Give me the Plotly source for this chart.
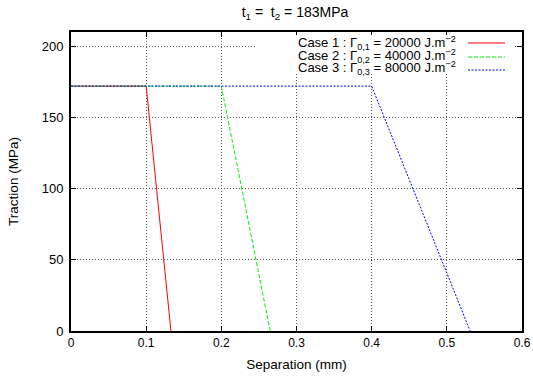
import plotly.graph_objects as go

# ---- data ----
sep_case1 = [0.0, 0.1, 0.133]
trac_case1 = [172, 172, 0]
sep_case2 = [0.0, 0.2, 0.265]
trac_case2 = [172, 172, 0]
sep_case3 = [0.0, 0.4, 0.531]
trac_case3 = [172, 172, 0]

case_labels = [
    "Case 1 : Γ<sub>0,1</sub> = 20000 J.m<sup>−2</sup>",
    "Case 2 : Γ<sub>0,2</sub> = 40000 J.m<sup>−2</sup>",
    "Case 3 : Γ<sub>0,3</sub> = 80000 J.m<sup>−2</sup>",
]
x_ticks = [0, 0.1, 0.2, 0.3, 0.4, 0.5, 0.6]
x_ticklabels = ["0", "0.1", "0.2", "0.3", "0.4", "0.5", "0.6"]
y_ticks = [0, 50, 100, 150, 200]
y_ticklabels = ["0", "50", "100", "150", "200"]

colors = ["#ff0000", "#00ee00", "#0000ff"]
dashes = ["solid", "4px,2px", "2px,1.5px"]

FONT = "Liberation Sans, Arial, sans-serif"

W, H = 533, 378
# plot area in window pixels
PX0, PX1, PY0, PY1 = 71, 522, 32, 331
L, R, T, B = PX0, W - PX1, PY0, H - PY1
PW, PH = PX1 - PX0, PY1 - PY0

def px(xw):
    return (xw - PX0) / PW

def py(yw):
    return (PY1 - yw) / PH

fig = go.Figure()
for xs, ys, c, d, name in zip(
    [sep_case1, sep_case2, sep_case3],
    [trac_case1, trac_case2, trac_case3],
    colors, dashes, case_labels,
):
    fig.add_trace(go.Scatter(x=xs, y=ys, mode="lines", name=name,
                             line=dict(color=c, width=1, dash=d)))

shapes = [
    dict(type="rect", xref="paper", yref="paper",
         x0=px(255), x1=px(514), y0=py(73), y1=py(35),
         fillcolor="white", line=dict(width=0), layer="above"),
]
annotations = []
line_y = [43, 57, 70]
text_y = [43, 56, 68]
for i, (c, d, lab) in enumerate(zip(colors, dashes, case_labels)):
    shapes.append(dict(type="line", xref="paper", yref="paper",
                       x0=px(468), x1=px(505), y0=py(line_y[i]), y1=py(line_y[i]),
                       line=dict(color=c, width=1, dash=d), layer="above"))
    annotations.append(dict(xref="paper", yref="paper", x=px(458), y=py(text_y[i]),
                            xanchor="right", yanchor="middle", text=lab,
                            showarrow=False, font=dict(family=FONT, size=13, color="black")))

axis_common = dict(
    showline=True, linewidth=2, linecolor="black", mirror="allticks",
    ticks="inside", ticklen=5, tickwidth=1, tickcolor="black",
    showgrid=True, gridcolor="#555555", gridwidth=1, griddash="1px,2px",
    zeroline=False, automargin=False,
)

fig.update_layout(
    width=W, height=H,
    margin=dict(l=L, r=R, t=T, b=B, autoexpand=False),
    paper_bgcolor="white", plot_bgcolor="white",
    showlegend=False,
    title=dict(text="t<sub>1</sub> =&nbsp; t<sub>2</sub> = 183MPa", xref="paper", x=px(295),
               xanchor="center", yref="container", y=1 - 12 / H, yanchor="middle",
               font=dict(family=FONT, size=14, color="black")),
    xaxis=dict(range=[0, 0.6], tickvals=x_ticks, ticktext=x_ticklabels,
               tickfont=dict(family=FONT, size=12, color="black"),
               title=dict(text="Separation (mm)", standoff=10,
                          font=dict(family=FONT, size=13.5, color="black")),
               **axis_common),
    yaxis=dict(range=[0, 210], tickvals=y_ticks, ticktext=y_ticklabels,
               tickfont=dict(family=FONT, size=13, color="black"),
               ticklabelstandoff=3,
               title=dict(text="Traction (MPa)", standoff=20,
                          font=dict(family=FONT, size=13.5, color="black")),
               **axis_common),
    shapes=shapes, annotations=annotations,
)

fig.write_html(
    "out.html",
    config={"displayModeBar": False},
    post_script="document.body.style.margin='0';document.body.style.overflow='hidden';",
)
